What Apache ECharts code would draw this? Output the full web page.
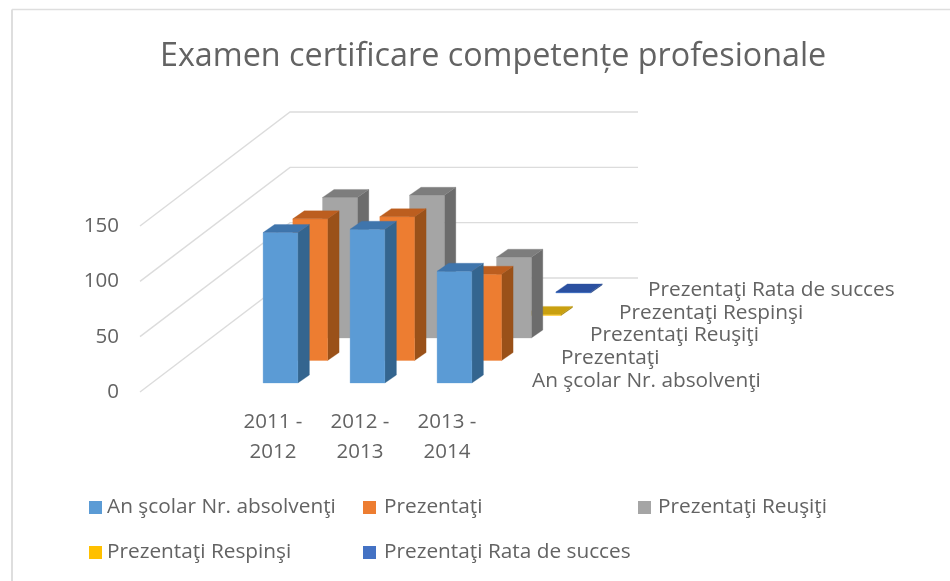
<!DOCTYPE html>
<html>
<head>
<meta charset="utf-8">
<style>html,body{margin:0;padding:0;background:#fff}#c{width:950px;height:581px;filter:blur(0.45px)}</style>
<script src="https://cdn.jsdelivr.net/npm/echarts@6/dist/echarts.min.js"></script>
</head>
<body>
<div id="c"></div>
<script>
const titleText = 'Examen certificare competențe profesionale';
const categories = ['2011 -\n2012', '2012 -\n2013', '2013 -\n2014'];
const seriesNames = ['An şcolar Nr. absolvenţi', 'Prezentaţi', 'Prezentaţi Reuşiţi', 'Prezentaţi Respinşi', 'Prezentaţi Rata de succes'];
const absolventi = [136, 139, 101];
const prezentati = [128, 130, 78];
const reusiti = [127, 129, 73];
const respinsi = [1, 1, 1];
const rataSucces = [1, 1, 1];
const yTicks = [0, 50, 100, 150];

const seriesValues = [absolventi, prezentati, reusiti, respinsi, rataSucces];
const palettes = [
  { front: '#5B9BD5', top: '#3F75AC', side: '#34658F' },
  { front: '#ED7D31', top: '#BC5E1F', side: '#9A5119' },
  { front: '#A5A5A5', top: '#7D7D7D', side: '#6C6C6C' },
  { front: '#FFC000', top: '#C9A010', side: '#A07F00' },
  { front: '#4472C4', top: '#2B50A0', side: '#24437F' }
];
const legendPos = [[84, 492], [358, 492], [633, 492], [84, 537], [358, 537]];
const legendTextShift = [0, 3, 2, 0, 3];

const TEXT = '#636363';
const FONT = '"Open Sans", sans-serif';
const STEP_X = 29.7, STEP_Y = -22.5, FRONT_X = 7.5, FRONT_Y = -9;
const SIDE_X = 11.5, SIDE_Y = -8, BAR_RATIO = 0.4;

function barRenderer(d, pal) {
  return function (params, api) {
    const c = api.value(0), v = api.value(1);
    const base = api.coord([c, 0]), top = api.coord([c, v]);
    const w = api.size([1, 0])[0] * BAR_RATIO;
    const x0 = base[0] + FRONT_X + d * STEP_X - w / 2, x1 = x0 + w;
    const yb = base[1] + FRONT_Y + d * STEP_Y, yt = top[1] + FRONT_Y + d * STEP_Y;
    const poly = (points, fill) => ({ type: 'polygon', shape: { points }, style: { fill, stroke: fill, lineWidth: 0.3 } });
    return { type: 'group', children: [
      poly([[x1, yb], [x1 + SIDE_X, yb + SIDE_Y], [x1 + SIDE_X, yt + SIDE_Y], [x1, yt]], pal.side),
      poly([[x0, yb], [x1, yb], [x1, yt], [x0, yt]], pal.front),
      poly([[x0, yt], [x1, yt], [x1 + SIDE_X, yt + SIDE_Y], [x0 + SIDE_X, yt + SIDE_Y]], pal.top)
    ] };
  };
}

const barSeries = seriesNames.map((name, d) => ({
  name, type: 'custom', coordinateSystem: 'cartesian2d', z: 10 - d, silent: true,
  itemStyle: { color: palettes[d].front },
  encode: { x: 0, y: 1 },
  data: seriesValues[d].map((v, i) => [i, v]),
  renderItem: barRenderer(d, palettes[d])
}));

const wallSeries = {
  type: 'custom', coordinateSystem: 'cartesian2d', z: 1, silent: true,
  encode: { x: 0, y: 1 },
  data: yTicks.map(t => [0, t]),
  renderItem(params, api) {
    const p = api.coord([0, api.value(1)]);
    const left = params.coordSys.x;
    const y = p[1];
    return { type: 'polyline', shape: { points: [[left - 89.5, y], [left + 60.5, y - 114], [left + 408.5, y - 114]] },
      style: { fill: null, stroke: '#DCDCDC', lineWidth: 1.4 } };
  }
};

const depthLabelSeries = {
  type: 'custom', coordinateSystem: 'cartesian2d', z: 20, silent: true,
  encode: { x: 0, y: 1 },
  data: seriesNames.map((n, d) => [2, 0, d]),
  renderItem(params, api) {
    const p = api.coord([2, 0]);
    const d = api.value(2);
    return { type: 'text', style: {
      x: p[0] + 85 + d * 29, y: p[1] - 11 - d * 22.8, text: seriesNames[d],
      fill: TEXT, font: '20.8px ' + FONT, verticalAlign: 'middle', align: 'left' } };
  }
};

const chart = echarts.init(document.getElementById('c'));
chart.setOption({
  animation: false,
  backgroundColor: '#fff',
  graphic: [
    { type: 'line', silent: true, shape: { x1: 12, y1: 9.5, x2: 950, y2: 9.5 }, style: { stroke: '#DEDEDE', lineWidth: 1.5 } },
    { type: 'line', silent: true, shape: { x1: 12, y1: 9.5, x2: 12, y2: 581 }, style: { stroke: '#DEDEDE', lineWidth: 2 } }
  ],
  title: { text: titleText, left: 155, top: 36,
    textStyle: { color: TEXT, fontFamily: FONT, fontWeight: 'normal', fontSize: 32.3 } },
  legend: seriesNames.map((n, i) => ({
    data: [n], left: legendPos[i][0], top: legendPos[i][1], selectedMode: false,
    icon: 'rect', itemWidth: 13, itemHeight: 13,
    textStyle: { color: TEXT, fontFamily: FONT, fontSize: 20.8, padding: [0, 0, 0, legendTextShift[i]] }
  })),
  grid: { left: 229.5, width: 261, top: 226, height: 166 },
  xAxis: { type: 'category', data: categories,
    axisLine: { show: false }, axisTick: { show: false }, splitLine: { show: false },
    axisLabel: { color: TEXT, fontFamily: FONT, fontSize: 20.5, margin: 15, lineHeight: 30, interval: 0 } },
  yAxis: { type: 'value', min: 0, max: 150, interval: 50, offset: 100,
    axisLine: { show: false }, axisTick: { show: false }, splitLine: { show: false },
    axisLabel: { color: TEXT, fontFamily: FONT, fontSize: 20.5, margin: 10.5, padding: [0, 0, 1, 0] } },
  series: [wallSeries, ...barSeries, depthLabelSeries]
});
</script>
</body>
</html>
